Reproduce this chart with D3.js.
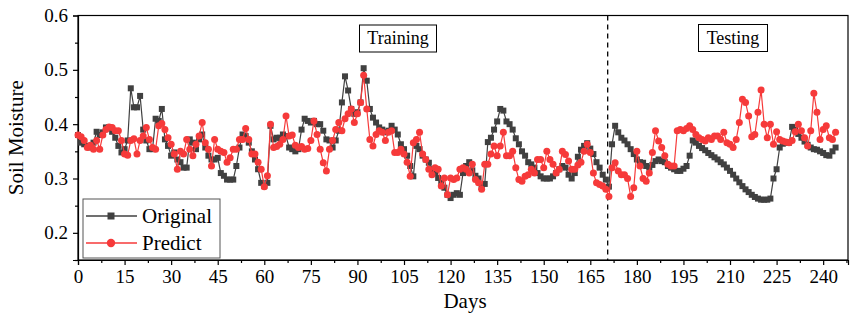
<!DOCTYPE html>
<html>
<head>
<meta charset="utf-8">
<script src="https://cdn.jsdelivr.net/npm/d3@7"></script>
<style>
  body { margin: 0; background: #fff; }
  svg { display: block; font-family: "Liberation Serif", "Times New Roman", serif; }
</style>
</head>
<body>
<figure id="chart" style="margin:0"></figure>
<script>
// soil moisture readings, one per day starting at day 0
const original = [
  0.38, 0.366, 0.363, 0.36, 0.357, 0.366, 0.386, 0.38, 0.385, 0.394,
  0.394, 0.386, 0.375, 0.36, 0.348, 0.354, 0.37, 0.466, 0.431, 0.431,
  0.452, 0.39, 0.37, 0.354, 0.354, 0.41, 0.406, 0.428, 0.372, 0.36,
  0.342, 0.348, 0.335, 0.33, 0.32, 0.32, 0.372, 0.366, 0.354, 0.372,
  0.381, 0.357, 0.342, 0.335, 0.335, 0.338, 0.31, 0.305, 0.298, 0.298,
  0.298, 0.323, 0.357, 0.381, 0.378, 0.366, 0.35, 0.335, 0.317, 0.292,
  0.286, 0.292, 0.397, 0.372, 0.375, 0.375, 0.381, 0.378, 0.357, 0.354,
  0.35, 0.354, 0.39, 0.41, 0.406, 0.403, 0.406, 0.4, 0.4, 0.388,
  0.372, 0.37, 0.357, 0.37, 0.388, 0.44, 0.488, 0.462, 0.428, 0.419,
  0.422, 0.44, 0.503, 0.48, 0.428, 0.412, 0.403, 0.394, 0.39, 0.385,
  0.388, 0.397, 0.39, 0.381, 0.363, 0.354, 0.342, 0.323, 0.304, 0.36,
  0.354, 0.342, 0.335, 0.329, 0.317, 0.31, 0.301, 0.292, 0.283, 0.27,
  0.264, 0.27, 0.273, 0.27, 0.31, 0.323, 0.33, 0.315, 0.305, 0.3,
  0.285, 0.29, 0.367, 0.375, 0.39, 0.405, 0.428, 0.425, 0.405, 0.4,
  0.39, 0.374, 0.363, 0.35, 0.342, 0.33, 0.326, 0.32, 0.31, 0.304,
  0.3, 0.3, 0.3, 0.304, 0.31, 0.317, 0.323, 0.32, 0.307, 0.3,
  0.31, 0.34, 0.353, 0.36, 0.365, 0.355, 0.345, 0.33, 0.32, 0.307,
  0.298, 0.285, 0.363, 0.397, 0.385, 0.375, 0.37, 0.363, 0.354, 0.345,
  0.335, 0.33, 0.329, 0.323, 0.32, 0.325, 0.332, 0.335, 0.332, 0.33,
  0.323, 0.32, 0.317, 0.314, 0.314, 0.318, 0.323, 0.342, 0.37, 0.366,
  0.36, 0.356, 0.352, 0.347, 0.343, 0.339, 0.335, 0.33, 0.326, 0.32,
  0.314, 0.307, 0.3, 0.293, 0.286, 0.28, 0.275, 0.27, 0.266, 0.263,
  0.261, 0.261, 0.261, 0.263, 0.3, 0.317, 0.357, 0.364, 0.366, 0.366,
  0.395, 0.39, 0.382, 0.375, 0.368, 0.362, 0.357, 0.354, 0.353, 0.35,
  0.347, 0.343, 0.342, 0.35, 0.357
];

const predict = [
  0.38, 0.377, 0.37, 0.357, 0.361, 0.354, 0.37, 0.354, 0.38, 0.39,
  0.395, 0.394, 0.388, 0.388, 0.37, 0.345, 0.343, 0.37, 0.373, 0.345,
  0.37, 0.378, 0.394, 0.372, 0.357, 0.354, 0.397, 0.401, 0.39, 0.375,
  0.363, 0.345, 0.317, 0.35, 0.345, 0.372, 0.354, 0.342, 0.363, 0.378,
  0.403, 0.366, 0.354, 0.323, 0.372, 0.354, 0.35, 0.348, 0.33, 0.338,
  0.354, 0.354, 0.372, 0.372, 0.392, 0.372, 0.345, 0.345, 0.33, 0.317,
  0.285, 0.305, 0.4, 0.357, 0.359, 0.363, 0.372, 0.415, 0.378, 0.38,
  0.361, 0.357, 0.359, 0.354, 0.355, 0.37, 0.406, 0.381, 0.354, 0.329,
  0.314, 0.354, 0.37, 0.39, 0.403, 0.388, 0.41, 0.419, 0.428, 0.403,
  0.419, 0.44, 0.49, 0.428, 0.372, 0.36, 0.381, 0.388, 0.385, 0.37,
  0.385, 0.388, 0.348, 0.348, 0.354, 0.345, 0.33, 0.304, 0.366, 0.372,
  0.385, 0.345, 0.335, 0.317, 0.307, 0.32, 0.317, 0.286, 0.301, 0.27,
  0.301, 0.298, 0.301, 0.317, 0.32, 0.317, 0.31, 0.326, 0.298, 0.292,
  0.28, 0.326, 0.326, 0.345, 0.36, 0.342, 0.36, 0.385, 0.342, 0.342,
  0.35, 0.32, 0.298, 0.295, 0.304, 0.307, 0.317, 0.31, 0.335, 0.335,
  0.32, 0.35, 0.335, 0.326, 0.31, 0.317, 0.35, 0.344, 0.332, 0.317,
  0.317, 0.325, 0.33, 0.35, 0.363, 0.348, 0.31, 0.292, 0.289, 0.286,
  0.28, 0.267, 0.32, 0.329, 0.314, 0.307, 0.307, 0.3, 0.267, 0.283,
  0.35, 0.323, 0.3, 0.295, 0.31, 0.348, 0.388, 0.369, 0.357, 0.342,
  0.326, 0.323, 0.323, 0.388, 0.39, 0.388, 0.392, 0.397, 0.39, 0.381,
  0.375, 0.372, 0.369, 0.375, 0.372, 0.378, 0.378, 0.372, 0.385, 0.366,
  0.363, 0.357, 0.372, 0.403, 0.446, 0.44, 0.415, 0.377, 0.381, 0.422,
  0.463, 0.4, 0.375, 0.4, 0.363, 0.386, 0.372, 0.369, 0.367, 0.366,
  0.37, 0.386, 0.4, 0.388, 0.375, 0.36, 0.388, 0.457, 0.422, 0.372,
  0.39, 0.397, 0.375, 0.372, 0.385
];

const xTicks = [0, 15, 30, 45, 60, 75, 90, 105, 120, 135, 150, 165, 180, 195, 210, 225, 240];
const yTicks = [0.2, 0.3, 0.4, 0.5, 0.6];
const splitDay = 170.6;

const width = 850, height = 320;
const margin = { top: 15.5, right: 2, bottom: 60, left: 78 };

const svg = d3.select("figure#chart")
  .append("svg")
  .attr("width", width)
  .attr("height", height);

const x = d3.scaleLinear()
  .domain([0, 248])
  .range([margin.left, width - margin.right]);

const y = d3.scaleLinear()
  .domain([0.15, 0.6])
  .range([height - margin.bottom, margin.top]);

const darkColor = "#404040";
const redColor = "#f63a3a";

// frame
svg.append("rect")
  .attr("x", x(0)).attr("y", y(0.6))
  .attr("width", x(248) - x(0)).attr("height", y(0.15) - y(0.6))
  .attr("fill", "none").attr("stroke", "#000").attr("stroke-width", 1.2);

// x axis, major + minor ticks
const xAxis = svg.append("g")
  .attr("transform", "translate(0," + y(0.15) + ")")
  .call(d3.axisBottom(x).tickValues(xTicks).tickSize(5).tickPadding(5).tickFormat(d3.format("d")));
svg.append("g")
  .attr("transform", "translate(0," + y(0.15) + ")")
  .call(d3.axisBottom(x).tickValues(d3.range(7.5, 248, 15)).tickSize(3).tickFormat(""))
  .call(g => g.select(".domain").remove());

// y axis
const yAxis = svg.append("g")
  .attr("transform", "translate(" + x(0) + ",0)")
  .call(d3.axisLeft(y).tickValues(yTicks).tickSize(5).tickPadding(5).tickFormat(d3.format(".1f")));
svg.append("g")
  .attr("transform", "translate(" + x(0) + ",0)")
  .call(d3.axisLeft(y).tickValues([0.15, 0.25, 0.35, 0.45, 0.55]).tickSize(3).tickFormat(""))
  .call(g => g.select(".domain").remove());

svg.selectAll(".tick text")
  .style("font-family", "Liberation Serif, serif")
  .style("font-size", "19px")
  .attr("fill", "#000");
svg.selectAll(".domain, .tick line").attr("stroke", "#000").attr("stroke-width", 1.2);

// axis titles
svg.append("text")
  .attr("x", (x(0) + x(248)) / 2 + 2)
  .attr("y", 308)
  .attr("text-anchor", "middle")
  .style("font-size", "21px")
  .text("Days");

svg.append("text")
  .attr("transform", "translate(23," + (y(0.15) + y(0.6)) / 2 + ")rotate(-90)")
  .attr("text-anchor", "middle")
  .style("font-size", "21px")
  .text("Soil Moisture");

// split line
svg.append("line")
  .attr("x1", x(splitDay)).attr("x2", x(splitDay))
  .attr("y1", y(0.6)).attr("y2", y(0.15))
  .attr("stroke", "#000").attr("stroke-width", 1.3)
  .attr("stroke-dasharray", "5,4");

// phase labels
function boxLabel(cx, cy, label, w) {
  svg.append("rect")
    .attr("x", cx - w / 2).attr("y", cy - 13)
    .attr("width", w).attr("height", 27)
    .attr("fill", "#fff").attr("stroke", "#000").attr("stroke-width", 1);
  svg.append("text")
    .attr("x", cx).attr("y", cy + 6)
    .attr("text-anchor", "middle")
    .style("font-size", "18px")
    .text(label);
}
boxLabel(398, 38, "Training", 77);
boxLabel(733, 37.5, "Testing", 69);

const line = d3.line()
  .x((d, i) => x(i))
  .y(d => y(d));

// original series
svg.append("path")
  .datum(original)
  .attr("d", line)
  .attr("fill", "none")
  .attr("stroke", darkColor)
  .attr("stroke-width", 1.2);
svg.selectAll("rect.orig")
  .data(original)
  .enter()
  .append("rect")
  .attr("class", "orig")
  .attr("x", (d, i) => x(i) - 3)
  .attr("y", d => y(d) - 3)
  .attr("width", 6)
  .attr("height", 6)
  .attr("fill", darkColor);

// predicted series
svg.append("path")
  .datum(predict)
  .attr("d", line)
  .attr("fill", "none")
  .attr("stroke", redColor)
  .attr("stroke-width", 1.2);
svg.selectAll("circle.pred")
  .data(predict)
  .enter()
  .append("circle")
  .attr("class", "pred")
  .attr("cx", (d, i) => x(i))
  .attr("cy", d => y(d))
  .attr("r", 3.5)
  .attr("fill", redColor);

// legend
const legend = svg.append("g");
legend.append("rect")
  .attr("x", 83).attr("y", 199)
  .attr("width", 137).attr("height", 59)
  .attr("fill", "#fff").attr("stroke", "#555").attr("stroke-width", 1);
legend.append("line")
  .attr("x1", 86).attr("x2", 137).attr("y1", 216).attr("y2", 216)
  .attr("stroke", darkColor).attr("stroke-width", 1.5);
legend.append("rect")
  .attr("x", 107.5).attr("y", 212.5).attr("width", 7).attr("height", 7)
  .attr("fill", darkColor);
legend.append("text")
  .attr("x", 142).attr("y", 223)
  .style("font-size", "21px")
  .text("Original");
legend.append("line")
  .attr("x1", 86).attr("x2", 137).attr("y1", 243).attr("y2", 243)
  .attr("stroke", redColor).attr("stroke-width", 1.5);
legend.append("circle")
  .attr("cx", 111).attr("cy", 243).attr("r", 4.2)
  .attr("fill", redColor);
legend.append("text")
  .attr("x", 142).attr("y", 250)
  .style("font-size", "21px")
  .text("Predict");
</script>
</body>
</html>
